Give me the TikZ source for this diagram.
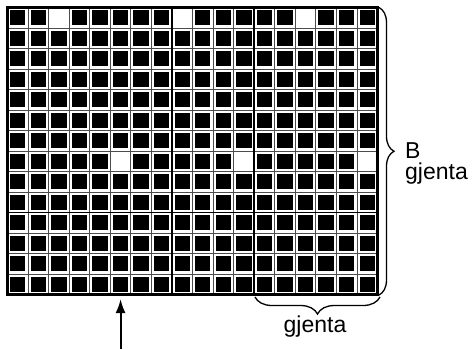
\documentclass[tikz,border=0pt]{standalone}
\usepackage{fontspec}
\setmainfont{Liberation Sans}
\usetikzlibrary{decorations.pathreplacing,arrows.meta}
\begin{document}
\begin{tikzpicture}[x=1pt,y=-1pt,
  cellbox/.style={fill=black},
  emptybox/.style={fill=white},
  thingrid/.style={draw=black!70,line width=0.8pt},
  thickgrid/.style={draw=black,line width=2pt},
  framebox/.style={draw=black,line width=2.8pt},
  bracestyle/.style={draw=black,line width=1.3pt,decorate},
  labeltext/.style={font=\fontsize{23}{21}\selectfont,inner sep=0pt},
  pointer/.style={draw=black,line width=2pt,-{Latex[length=14pt,width=10pt]}}]
\useasboundingbox (0,0) rectangle (475,349);
\def\Wc{20.556}
\def\Hc{20.5}
\def\Xo{7.5}
\def\Yo{7.5}
% black squares
\foreach \i in {0,...,17}{
  \foreach \j in {0,...,13}{
    \fill[cellbox] ({\Xo+\i*\Wc+2.6},{\Yo+\j*\Hc+2.6}) rectangle ({\Xo+(\i+1)*\Wc-2.6},{\Yo+(\j+1)*\Hc-2.6});
  }
}
% empty cells
\foreach \i/\j in {2/0,8/0,14/0,5/7,11/7,17/7}{
  \fill[emptybox] ({\Xo+\i*\Wc+1.5},{\Yo+\j*\Hc+1.5}) rectangle ({\Xo+(\i+1)*\Wc-1.5},{\Yo+(\j+1)*\Hc-1.5});
}
% thin grid lines
\foreach \i in {1,...,17}{
  \draw[thingrid] ({\Xo+\i*\Wc},\Yo) -- ({\Xo+\i*\Wc},{\Yo+14*\Hc});
}
\foreach \j in {1,...,13}{
  \draw[thingrid] (\Xo,{\Yo+\j*\Hc}) -- ({\Xo+18*\Wc},{\Yo+\j*\Hc});
}
% thick dividers
\draw[thickgrid] ({\Xo+8*\Wc},\Yo) -- ({\Xo+8*\Wc},{\Yo+14*\Hc});
\draw[thickgrid] ({\Xo+12*\Wc},\Yo) -- ({\Xo+12*\Wc},{\Yo+14*\Hc});
\draw[draw=black,line width=1.4pt] (\Xo,{\Yo+10*\Hc}) -- ({\Xo+18*\Wc},{\Yo+10*\Hc});
% frame
\coordinate (gTL) at (\Xo,\Yo);
\coordinate (gBR) at ({\Xo+18*\Wc},{\Yo+14*\Hc});
\draw[framebox] (gTL) rectangle (gBR);
% braces
\coordinate (rbTop) at (379,7.5);
\coordinate (rbBot) at (379,295);
\draw[bracestyle,decoration={brace,amplitude=15pt}] (rbTop) -- (rbBot);
\coordinate (bbRight) at (380,297);
\coordinate (bbLeft) at (255,297);
\draw[bracestyle,decoration={brace,amplitude=17pt}] (bbRight) -- (bbLeft);
% labels
\node[labeltext,anchor=west,align=left] (rightlabel) at (405,163) {B\\gjenta};
\node[labeltext] (bottomlabel) at (315,327) {gjenta};
% arrow
\coordinate (arrowStart) at ({\Xo+5.5*\Wc},349);
\coordinate (arrowEnd) at ({\Xo+5.5*\Wc},299);
\draw[pointer] (arrowStart) -- (arrowEnd);
\end{tikzpicture}
\end{document}
